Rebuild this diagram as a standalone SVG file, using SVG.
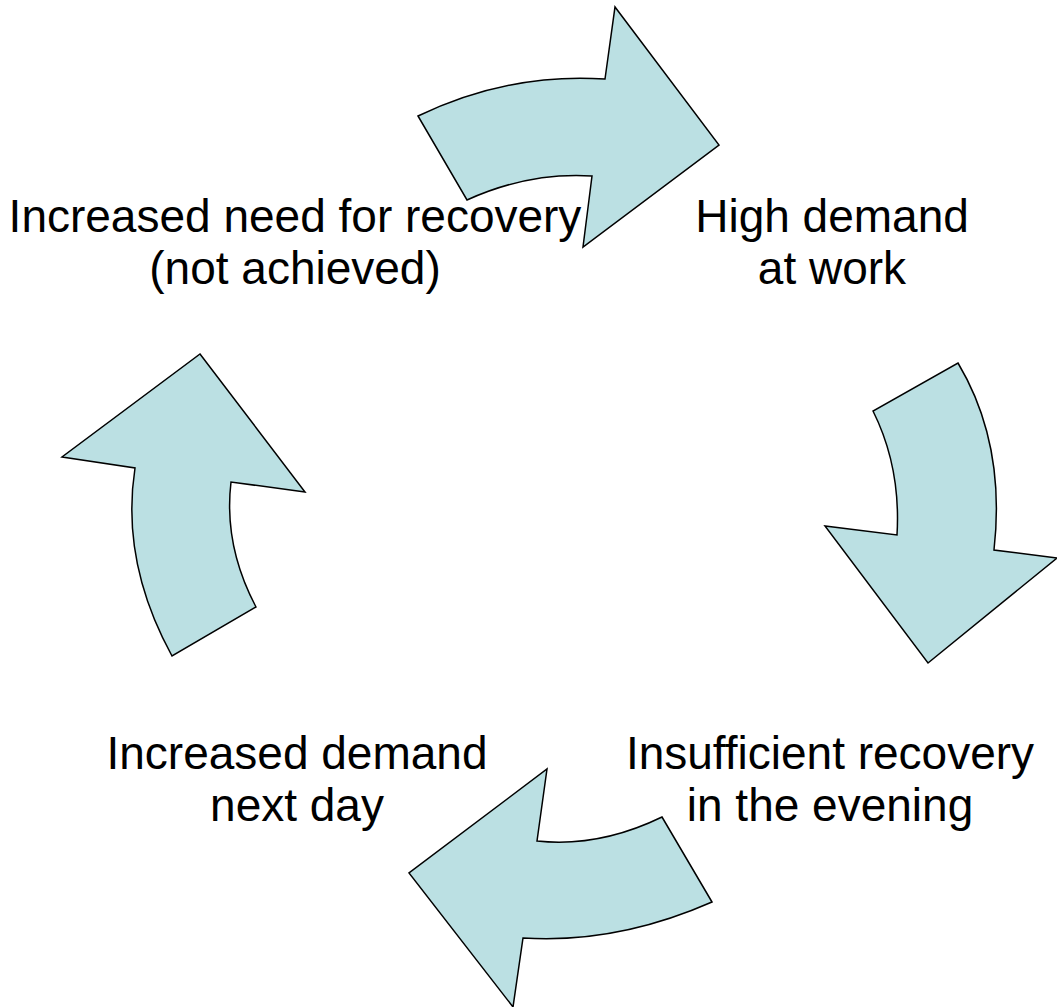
<svg xmlns="http://www.w3.org/2000/svg" width="1057" height="1007" viewBox="0 0 1057 1007">
  <style>
    .label { font-family: "Liberation Sans", Arial, sans-serif; font-size: 46px; fill: #000; text-anchor: middle; }
    .cycle-arrow { fill: #bbe0e3; stroke: #000; stroke-width: 1.5; stroke-linejoin: miter; }
  </style>
  <rect width="1057" height="1007" fill="#fff"/>

  <!-- curved block arrows forming the cycle -->
  <g id="connectors">
    <path id="arrow-top" class="cycle-arrow" d="M418,116 Q508.5,72.5 605,79 L615,7 L719,145 L583,247 L592,176 Q528.5,172 467,200 Z"/>
    <path id="arrow-right" class="cycle-arrow" d="M958,363 Q1006,443.5 994,550 L1057,558 L928,663 L825,526 L897,535 Q901,467 873,411 Z"/>
    <path id="arrow-bottom" class="cycle-arrow" d="M662,817 L712,902 Q616.5,944 523,938 L513,1007 L409,873 L547,769 L537,841 Q599,847.6 662,817 Z"/>
    <path id="arrow-left" class="cycle-arrow" d="M200,354 L305,492 L231,482 Q223.5,545.5 256,607 L172,656 Q120.5,562 135,468 L62,457 Z"/>
  </g>

  <g id="node-need-recovery">
    <text class="label" x="295" y="232">Increased need for recovery</text>
    <text class="label" x="295" y="284">(not achieved)</text>
  </g>
  <g id="node-high-demand">
    <text class="label" x="832" y="232">High demand</text>
    <text class="label" x="832" y="284">at work</text>
  </g>
  <g id="node-insufficient-recovery">
    <text class="label" x="830" y="769">Insufficient recovery</text>
    <text class="label" x="830" y="821">in the evening</text>
  </g>
  <g id="node-increased-demand">
    <text class="label" x="297" y="769">Increased demand</text>
    <text class="label" x="297" y="821">next day</text>
  </g>
</svg>
